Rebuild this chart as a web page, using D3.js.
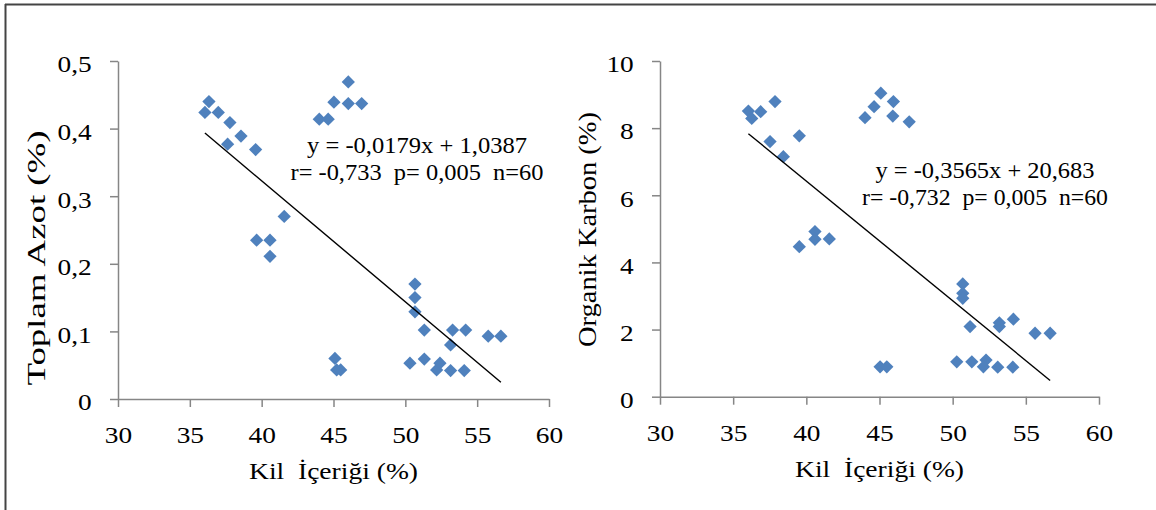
<!DOCTYPE html>
<html>
<head>
<meta charset="utf-8">
<script src="https://cdn.jsdelivr.net/npm/d3@7"></script>
<style>
  html, body { margin: 0; padding: 0; background: #fff; }
  svg { display: block; }
  text { font-family: "Liberation Serif", "Times New Roman", serif; fill: #000; white-space: pre; }
  .axis path, .axis line { stroke: #868686; stroke-width: 1.5; }
</style>
</head>
<body>
<div id="chart"></div>
<script>
// kil içeriği (x) e toplam azot (y) - gráfico da esquerda
const azotX = [36.33, 36.05, 36.98, 37.79, 38.56, 37.63, 39.58, 44.01, 44.63, 45.03, 46.03, 46.96, 46.03,
  41.57, 39.65, 40.58, 40.58, 50.67, 50.67, 50.67, 51.32, 53.29, 54.20, 53.15, 55.77, 56.65,
  45.10, 45.22, 45.50, 50.32, 51.32, 52.18, 52.41, 53.15, 54.10];
const azotY = [0.440, 0.424, 0.424, 0.409, 0.389, 0.377, 0.369, 0.414, 0.414, 0.439, 0.437, 0.437, 0.469,
  0.270, 0.235, 0.235, 0.211, 0.170, 0.150, 0.129, 0.102, 0.102, 0.102, 0.080, 0.093, 0.093,
  0.060, 0.043, 0.043, 0.053, 0.059, 0.043, 0.053, 0.042, 0.042];

// kil içeriği (x) e organik karbon (y) - gráfico da direita
const karbonX = [36.04, 36.27, 36.88, 37.86, 37.52, 38.43, 39.52, 39.52, 40.59, 40.59, 41.57,
  44.01, 44.63, 45.09, 45.95, 45.91, 47.03, 45.04, 45.50, 50.69, 50.69, 50.69, 51.19,
  53.19, 53.19, 54.15, 55.63, 56.66, 50.28, 51.31, 52.28, 52.10, 53.08, 54.11];
const karbonY = [8.51, 8.29, 8.49, 8.79, 7.60, 7.15, 7.77, 4.47, 4.92, 4.69, 4.70,
  8.31, 8.64, 9.04, 8.79, 8.36, 8.19, 0.89, 0.89, 3.36, 3.08, 2.93, 2.09,
  2.20, 2.09, 2.31, 1.89, 1.89, 1.04, 1.04, 1.09, 0.89, 0.88, 0.88];

// ticks e textos
const xTicks = [30, 35, 40, 45, 50, 55, 60];
const azotTicks = [0, 0.1, 0.2, 0.3, 0.4, 0.5];
const karbonTicks = [0, 2, 4, 6, 8, 10];
const azotTrend = { slope: -0.0179, intercept: 1.0387 };
const karbonTrend = { slope: -0.3565, intercept: 20.683 };
const azotLabels = ["y = -0,0179x + 1,0387", "r= -0,733  p= 0,005  n=60"];
const karbonLabels = ["y = -0,3565x + 20,683", "r= -0,732  p= 0,005  n=60"];
const xTitle = "Kil  İçeriği (%)";

const width = 1156;
const height = 510;
const stretch = 1.14; // a imagem original é esticada na horizontal

const svg = d3.select("#chart")
  .append("svg")
  .attr("width", width)
  .attr("height", height);

// moldura (só topo e esquerda aparecem)
svg.append("line").attr("x1", 5).attr("x2", width).attr("y1", 4.5).attr("y2", 4.5)
  .attr("stroke", "#444").attr("stroke-width", 2);
svg.append("line").attr("x1", 5.5).attr("x2", 5.5).attr("y1", 4).attr("y2", height)
  .attr("stroke", "#444").attr("stroke-width", 2);

const fmt = (d) => String(d).replace(".", ",");

function drawPanel(cfg) {
  const x = d3.scaleLinear().domain([30, 60]).range(cfg.xRange);
  const y = d3.scaleLinear().domain(cfg.yDomain).range(cfg.yRange);
  const g = svg.append("g");

  // eixo x
  const gx = g.append("g")
    .attr("class", "axis")
    .attr("transform", `translate(0,${cfg.yRange[0]})`)
    .call(d3.axisBottom(x).tickValues(xTicks).tickSize(8).tickPadding(19).tickSizeOuter(0));
  gx.selectAll("text").attr("font-size", 24).attr("transform", `scale(${stretch},1)`);

  // eixo y
  const gy = g.append("g")
    .attr("class", "axis")
    .attr("transform", `translate(${cfg.xRange[0]},0)`)
    .call(d3.axisLeft(y).tickValues(cfg.yTicks).tickFormat(fmt).tickSize(8).tickPadding(15).tickSizeOuter(0));
  gy.selectAll("text").attr("font-size", 24).attr("dy", "0.45em").attr("transform", `scale(${stretch},1)`);

  gx.selectAll("text, line, path").attr("font-family", null);
  gy.attr("font-family", null);
  gx.attr("font-family", null);

  // pontos (losangos)
  g.selectAll(".pt")
    .data(cfg.xs.map((v, i) => [v, cfg.ys[i]]))
    .enter()
    .append("path")
    .attr("class", "pt")
    .attr("d", d3.symbol(d3.symbolSquare, 88))
    .attr("fill", "#4F81BD")
    .attr("transform", (d) => `translate(${x(d[0])},${y(d[1])}) rotate(45)`);

  // linha de tendência
  const x0 = d3.min(cfg.xs), x1 = d3.max(cfg.xs);
  const f = (v) => cfg.trend.slope * v + cfg.trend.intercept;
  g.append("line")
    .attr("x1", x(x0)).attr("y1", y(f(x0)))
    .attr("x2", x(x1)).attr("y2", y(f(x1)))
    .attr("stroke", "#000").attr("stroke-width", 1.4);

  // equação
  cfg.labels.forEach((t, i) => {
    g.append("text")
      .attr("x", cfg.eqX).attr("y", cfg.eqY + i * 27)
      .attr("text-anchor", "middle")
      .attr("font-size", 23)
      .attr("textLength", cfg.eqLen[i])
      .attr("lengthAdjust", "spacingAndGlyphs")
      .text(t);
  });

  // título x
  g.append("text")
    .attr("x", (cfg.xRange[0] + cfg.xRange[1]) / 2)
    .attr("y", cfg.yRange[0] + 80)
    .attr("text-anchor", "middle")
    .attr("font-size", 24)
    .attr("textLength", 169)
    .attr("lengthAdjust", "spacingAndGlyphs")
    .text(xTitle);

  // título y
  g.append("text")
    .attr("transform", `translate(${cfg.yTitle[0]},${cfg.yTitle[1]}) rotate(-90)`)
    .attr("text-anchor", "middle")
    .attr("font-size", 26)
    .attr("textLength", cfg.yTitleLen)
    .attr("lengthAdjust", "spacingAndGlyphs")
    .text(cfg.yTitleText);
}

drawPanel({
  xRange: [118, 549], yRange: [399, 61], yDomain: [0, 0.5], yTicks: azotTicks,
  xs: azotX, ys: azotY, trend: azotTrend,
  labels: azotLabels, eqX: 417, eqY: 153, eqLen: [220, 253],
  yTitle: [45, 258], yTitleLen: 255, yTitleText: "Toplam Azot (%)"
});

drawPanel({
  xRange: [660, 1099], yRange: [396.7, 61], yDomain: [0, 10], yTicks: karbonTicks,
  xs: karbonX, ys: karbonY, trend: karbonTrend,
  labels: karbonLabels, eqX: 985, eqY: 178, eqLen: [219, 246],
  yTitle: [596, 229.5], yTitleLen: 235, yTitleText: "Organik Karbon (%)"
});
</script>
</body>
</html>
